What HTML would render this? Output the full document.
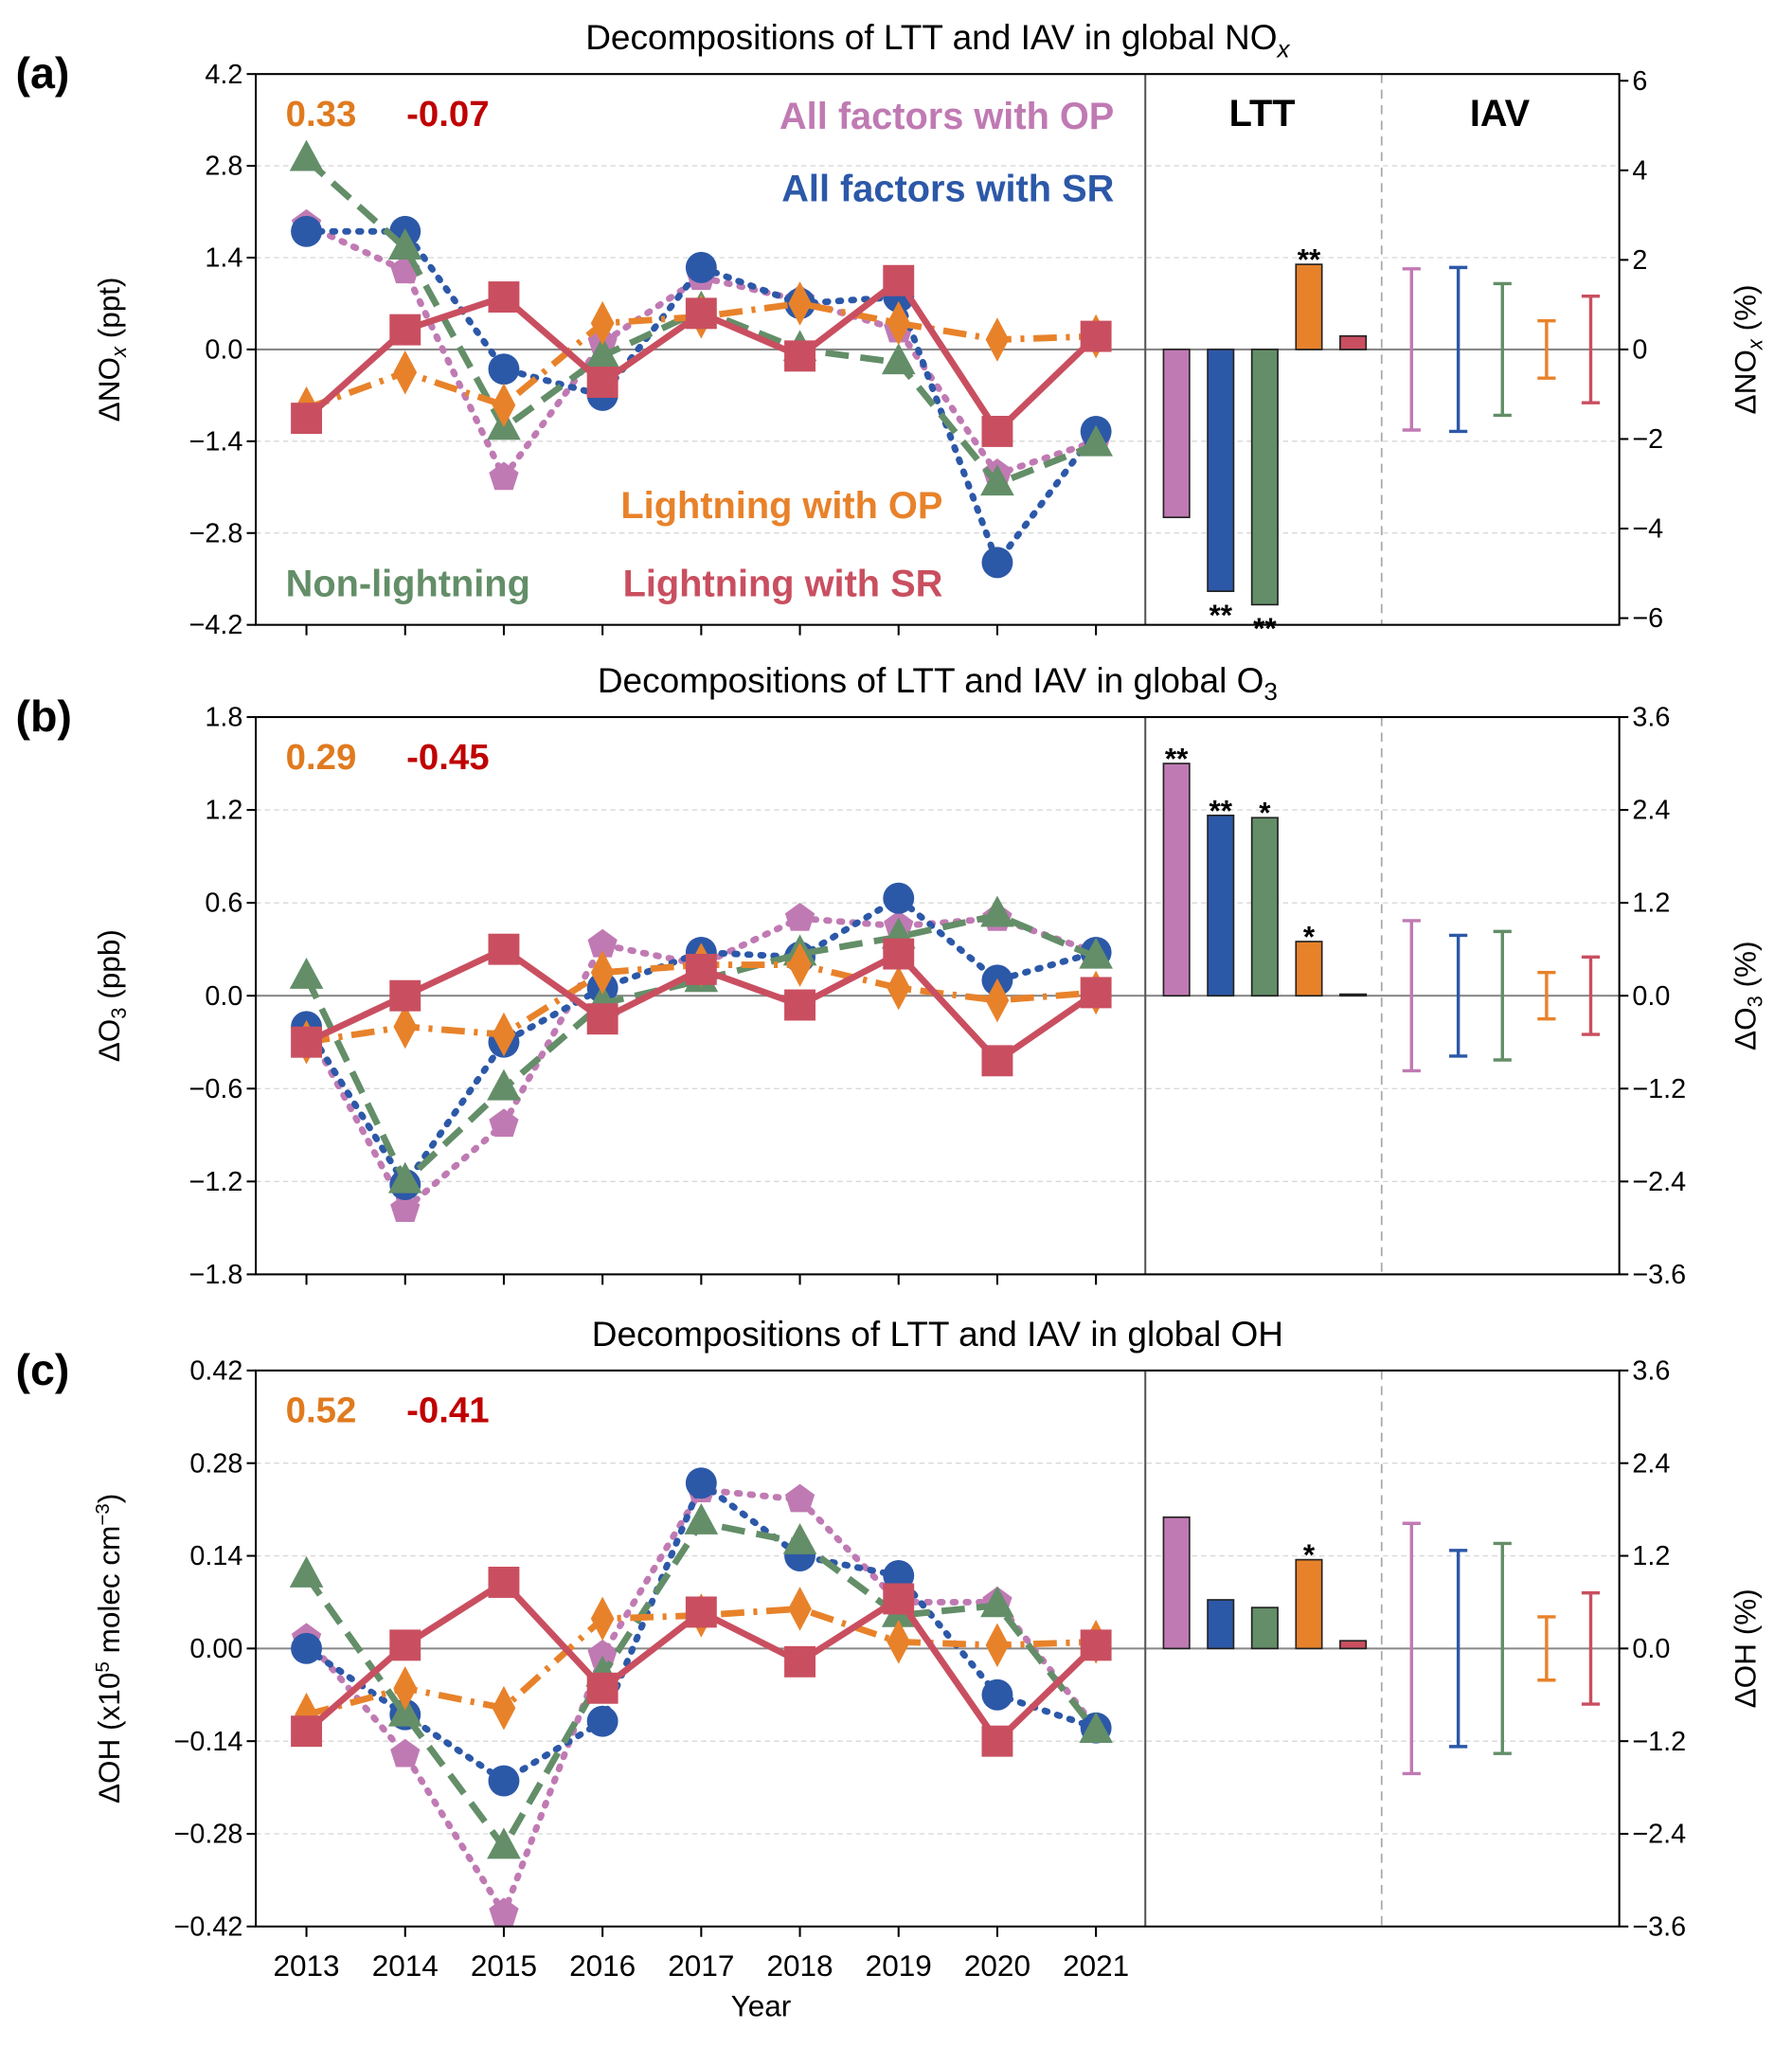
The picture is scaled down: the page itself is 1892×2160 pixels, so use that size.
<!DOCTYPE html>
<html><head><meta charset="utf-8"><style>
html,body{margin:0;padding:0;background:#fff}
svg{display:block}
text{font-family:"Liberation Sans","DejaVu Sans",sans-serif}
</style></head><body>
<svg id="fig" width="1892" height="2160" viewBox="0 0 1380 1575" preserveAspectRatio="none" xmlns="http://www.w3.org/2000/svg"></svg>
<script>
const years = [2013,2014,2015,2016,2017,2018,2019,2020,2021];
const seriesNames = ["op","sr","nonl","lop","lsr"];
// Panel a (ppt)
const aOP  = [1.9,1.2,-1.95,0.1,1.1,0.75,0.3,-1.9,-1.4];
const aSR  = [1.8,1.8,-0.3,-0.7,1.25,0.7,0.8,-3.25,-1.25];
const aNL  = [2.9,1.55,-1.2,-0.1,0.6,0.0,-0.2,-2.05,-1.45];
const aLOP = [-0.9,-0.35,-0.85,0.4,0.5,0.7,0.4,0.15,0.2];
const aLSR = [-1.05,0.3,0.8,-0.5,0.55,-0.1,1.05,-1.25,0.2];
const aLTT = [-3.75,-5.4,-5.7,1.9,0.3];
const aLTTstars = ["","**","**","**",""];
const aIAV = [1.8,1.83,1.47,0.64,1.19];
const aTicksL = ["4.2","2.8","1.4","0.0","\u22121.4","\u22122.8","\u22124.2"];
const aTicksR = ["6","4","2","0","\u22122","\u22124","\u22126"];
// Panel b (ppb)
const bOP  = [-0.2,-1.38,-0.83,0.33,0.2,0.5,0.45,0.5,0.28];
const bSR  = [-0.2,-1.22,-0.3,0.05,0.28,0.25,0.63,0.1,0.28];
const bNL  = [0.12,-1.2,-0.6,-0.05,0.1,0.27,0.38,0.52,0.25];
const bLOP = [-0.3,-0.2,-0.25,0.15,0.2,0.2,0.05,-0.03,0.02];
const bLSR = [-0.3,0.0,0.3,-0.15,0.17,-0.06,0.27,-0.42,0.02];
const bLTT = [3.0,2.33,2.3,0.7,0.02];
const bLTTstars = ["**","**","*","*",""];
const bIAV = [0.97,0.78,0.83,0.3,0.5];
const bTicksL = ["1.8","1.2","0.6","0.0","\u22120.6","\u22121.2","\u22121.8"];
const bTicksR = ["3.6","2.4","1.2","0.0","\u22121.2","\u22122.4","\u22123.6"];
// Panel c (1e5 molec cm-3)
const cOP  = [0.015,-0.16,-0.4,-0.01,0.24,0.225,0.07,0.07,-0.12];
const cSR  = [0.0,-0.1,-0.2,-0.11,0.25,0.14,0.11,-0.07,-0.12];
const cNL  = [0.11,-0.1,-0.3,-0.04,0.19,0.16,0.05,0.065,-0.125];
const cLOP = [-0.1,-0.06,-0.09,0.045,0.05,0.06,0.01,0.005,0.01];
const cLSR = [-0.125,0.005,0.1,-0.06,0.055,-0.02,0.075,-0.14,0.005];
const cLTT = [1.7,0.63,0.53,1.15,0.1];
const cLTTstars = ["","","","*",""];
const cIAV = [1.62,1.27,1.36,0.41,0.72];
const cTicksL = ["0.42","0.28","0.14","0.00","\u22120.14","\u22120.28","\u22120.42"];
const cTicksR = ["3.6","2.4","1.2","0.0","\u22121.2","\u22122.4","\u22123.6"];

const COL = {op:"#c07ab3",sr:"#2c58a8",nonl:"#638e68",lop:"#e8822a",lsr:"#c94f60"};
const NS="http://www.w3.org/2000/svg";
const svg=document.getElementById("fig");
function el(tag,attrs,parent){const e=document.createElementNS(NS,tag);for(const k in attrs)e.setAttribute(k,attrs[k]);(parent||svg).appendChild(e);return e;}
function txt(s,x,y,attrs,parent){const t=el("text",Object.assign({x:x,y:y},attrs),parent);t.textContent=s;return t;}

const X0=197,X1=1247,XDIV=882,XDASH=1064;
function xYear(i){return 236+i*76;}
const barX=[906,940,974,1008,1042];
const errX=[1087,1123,1157,1191,1225];

function panel(cfg){
  const g=el("g",{});
  
  
  const top=cfg.top,bot=cfg.bot,zero=(top+bot)/2,h=(bot-top)/2;
  const yL=v=>zero-v/cfg.maxL*h;
  const yR=v=>zero-v/cfg.maxR*h;
  for(let k=0;k<7;k++){
    const v=cfg.maxL-k*cfg.maxL/3;
    const y=yL(v);
    if(k>0&&k<6&&k!==3){const gl=el("line",{x1:X0,x2:X1,y1:y,y2:y,stroke:"#d8d8d8","stroke-width":1,"stroke-dasharray":"4,3"},g);
      }
    const tk=el("line",{x1:X0-7,x2:X0,y1:y,y2:y,stroke:"#000","stroke-width":1.5},g);
    
    const tl=txt(cfg.ticksL[k],X0-10,y+7,{"font-size":21,"text-anchor":"end"},g);
    
    const yr=yR(parseFloat(cfg.ticksR[k].replace("\u2212","-")));
    const tr=el("line",{x1:X1,x2:X1+7,y1:yr,y2:yr,stroke:"#000","stroke-width":1.5},g);
    
    const rl=txt(cfg.ticksR[k],X1+10,yr+7,{"font-size":21},g);
    
  }
  const zl=el("line",{x1:X0,x2:X1,y1:zero,y2:zero,stroke:"#888","stroke-width":1.5},g);
  
  const dv=el("line",{x1:XDIV,x2:XDIV,y1:top,y2:bot,stroke:"#555","stroke-width":1.5},g);
  
  const dd=el("line",{x1:XDASH,x2:XDASH,y1:top,y2:bot,stroke:"#aaa","stroke-width":1.3,"stroke-dasharray":"7,5"},g);
  
  years.forEach((yr,i)=>{const t=el("line",{x1:xYear(i),x2:xYear(i),y1:bot,y2:bot+8,stroke:"#000","stroke-width":1.5},g);
    });
  cfg.ltt.forEach((v,i)=>{
    const c=COL[seriesNames[i]];
    const y=yR(v);
    const r=el("rect",{x:barX[i]-10,y:Math.min(y,zero),width:20,height:Math.abs(y-zero),fill:c,stroke:"#222","stroke-width":1.2},g);
    
    if(cfg.stars[i]){const sy=v>=0?y-2:y+20;
      const s=txt(cfg.stars[i],barX[i],sy+6,{"font-size":23,"font-weight":"bold","text-anchor":"middle"},g);
      }
  });
  cfg.iav.forEach((v,i)=>{
    const c=COL[seriesNames[i]];const x=errX[i];const a=yR(v),b=yR(-v);
    const p=el("path",{d:`M${x},${a}V${b}M${x-7},${a}H${x+7}M${x-7},${b}H${x+7}`,stroke:c,"stroke-width":2.5,fill:"none"},g);
    
  });
  const styles={op:"2,8",sr:"2,8",nonl:"18,9",lop:"18,7,3,7",lsr:""};
  cfg.data.forEach((arr,si)=>{
    const nm=seriesNames[si],c=COL[nm];
    const pts=arr.map((v,i)=>[xYear(i),yL(v)]);
    const pl=el("polyline",{points:pts.map(p=>p.join(",")).join(" "),fill:"none",stroke:c,"stroke-width":5,"stroke-dasharray":styles[nm],"stroke-linecap":nm==="op"||nm==="sr"?"round":"butt"},g);
    
    pts.forEach(([x,y])=>{
      let m;
      if(nm==="op"){const r=12;let d="";for(let k=0;k<5;k++){const an=-Math.PI/2+k*2*Math.PI/5;d+=(k?"L":"M")+(x+r*Math.cos(an))+","+(y+r*Math.sin(an));}m=el("path",{d:d+"Z",fill:c},g);}
      else if(nm==="sr"){m=el("circle",{cx:x,cy:y,r:12,fill:c},g);}
      else if(nm==="nonl"){m=el("path",{d:`M${x},${y-15}L${x+13},${y+9}L${x-13},${y+9}Z`,fill:c},g);}
      else if(nm==="lop"){m=el("path",{d:`M${x},${y-17}L${x+9},${y}L${x},${y+17}L${x-9},${y}Z`,fill:c},g);}
      else {m=el("rect",{x:x-12,y:y-12,width:24,height:24,fill:c},g);}
      
    });
  });
  const fr=el("rect",{x:X0,y:top,width:X1-X0,height:bot-top,fill:"none",stroke:"#000","stroke-width":1.5},g);
  
  const ti=el("text",{x:722,y:top-19,"font-size":27,"text-anchor":"middle"},g);
  ti.innerHTML=cfg.title;
  
  const pl=txt(cfg.label,12,top+11,{"font-size":34,"font-weight":"bold"},g);
  
  const n1=txt(cfg.r1,220,top+40,{"font-size":28,"font-weight":"bold",fill:"#e07a1f"},g);
  
  const n2=txt(cfg.r2,313,top+40,{"font-size":28,"font-weight":"bold",fill:"#c00000"},g);
  
  const yl=el("text",{transform:`translate(92,${zero}) rotate(-90)`,"font-size":23,"text-anchor":"middle"},g);
  yl.innerHTML=cfg.ylab;
  
  const yr=el("text",{transform:`translate(1352,${zero}) rotate(-90)`,"font-size":23,"text-anchor":"middle"},g);
  yr.innerHTML=cfg.yrlab;
  
  return g;
}

panel({name:"panel-a-nox",top:57,bot:481,maxL:4.2,maxR:6.15,ticksL:aTicksL,ticksR:aTicksR,
  data:[aOP,aSR,aNL,aLOP,aLSR],ltt:aLTT,stars:aLTTstars,iav:aIAV,label:"(a)",r1:"0.33",r2:"-0.07",
  title:'Decompositions of LTT and IAV in global NO<tspan font-style="italic" font-size="19" dy="6">x</tspan>',
  ylab:'\u0394NO<tspan font-style="italic" font-size="16" dy="5">x</tspan><tspan dy="-5"> (ppt)</tspan>',
  yrlab:'\u0394NO<tspan font-style="italic" font-size="16" dy="5">x</tspan><tspan dy="-5"> (%)</tspan>'});
panel({name:"panel-b-o3",top:552,bot:981,maxL:1.8,maxR:3.6,ticksL:bTicksL,ticksR:bTicksR,
  data:[bOP,bSR,bNL,bLOP,bLSR],ltt:bLTT,stars:bLTTstars,iav:bIAV,label:"(b)",r1:"0.29",r2:"-0.45",
  title:'Decompositions of LTT and IAV in global O<tspan font-size="19" dy="6">3</tspan>',
  ylab:'\u0394O<tspan font-size="16" dy="5">3</tspan><tspan dy="-5"> (ppb)</tspan>',
  yrlab:'\u0394O<tspan font-size="16" dy="5">3</tspan><tspan dy="-5"> (%)</tspan>'});
panel({name:"panel-c-oh",top:1055,bot:1483,maxL:0.42,maxR:3.6,ticksL:cTicksL,ticksR:cTicksR,
  data:[cOP,cSR,cNL,cLOP,cLSR],ltt:cLTT,stars:cLTTstars,iav:cIAV,label:"(c)",r1:"0.52",r2:"-0.41",
  title:'Decompositions of LTT and IAV in global OH',
  ylab:'\u0394OH (x10<tspan font-size="15" dy="-8">5</tspan><tspan dy="8"> molec cm</tspan><tspan font-size="15" dy="-8">\u22123</tspan><tspan dy="8">)</tspan>',
  yrlab:'\u0394OH (%)'});

function leg(s,x,y,c,anchor,name){const t=txt(s,x,y,{"font-size":29,"font-weight":"bold",fill:c,"text-anchor":anchor});
  }
leg("All factors with OP",858,99,COL.op,"end","legend-all-op");
leg("All factors with SR",858,155,COL.sr,"end","legend-all-sr");
leg("Lightning with OP",726,399,COL.lop,"end","legend-lightning-op");
leg("Non-lightning",220,459,COL.nonl,"start","legend-non-lightning");
leg("Lightning with SR",726,459,COL.lsr,"end","legend-lightning-sr");
leg("LTT",972,97,"#000","middle","ltt-header");
leg("IAV",1155,97,"#000","middle","iav-header");
years.forEach((yr,i)=>{const t=txt(String(yr),xYear(i),1521,{"font-size":23,"text-anchor":"middle"});
  });
const xt=txt("Year",586,1552,{"font-size":23,"text-anchor":"middle"});

</script>
</body></html>
